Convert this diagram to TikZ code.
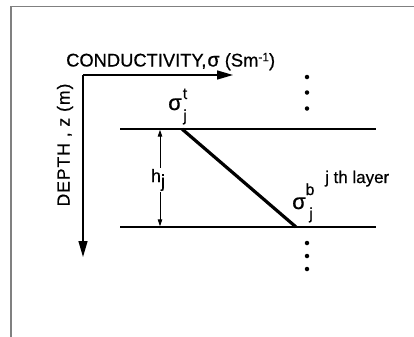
\documentclass[tikz,border=0pt]{standalone}
\usepackage{fontspec}
\setmainfont{Liberation Sans}
\usetikzlibrary{arrows.meta}
\begin{document}
\begin{tikzpicture}[x=1bp,y=-1bp,
  frame/.style={draw=black!50,line width=1.2bp},
  axis/.style={line width=1.4bp,-{Triangle[length=16bp,width=9bp]}},
  layerline/.style={line width=1.4bp},
  gradline/.style={line width=3.2bp},
  harrow/.style={line width=1bp,{Triangle[length=7bp,width=4.5bp]}-{Triangle[length=7bp,width=4.5bp]}},
  lab/.style={inner sep=0pt,font=\fontsize{18.4}{20}\selectfont\addfontfeature{FakeBold=0.6}},
  sig/.style={inner sep=0pt,font=\fontsize{22}{24}\selectfont\addfontfeature{FakeBold=0.6}},
  small/.style={inner sep=0pt,font=\fontsize{16}{18}\selectfont\addfontfeature{FakeBold=0.6}},
  dot/.style={circle,fill=black,inner sep=0pt,minimum size=4.5bp}]
\useasboundingbox (0,0) rectangle (414,337);
\fill[white] (0,0) rectangle (414,337);
% frame
\coordinate (fbl) at (11,337);
\coordinate (ftl) at (11,6.5);
\coordinate (ftr) at (414,6.5);
\draw[frame] (fbl) -- (ftl) -- (ftr);
% axes
\coordinate (o) at (83,75);
\coordinate (xe) at (233,75);
\coordinate (ze) at (83,257);
\draw[axis] (o) -- (xe);
\draw[axis] (o) -- (ze);
\node[lab,anchor=base west] (xlab) at (66,66.5) {CONDUCTIVITY,\kern1bp{\fontsize{20}{22}\selectfont σ} (Sm\raisebox{0.55ex}{\fontsize{12}{14}\selectfont -1})};
\node[lab,rotate=90,anchor=center,font=\fontsize{17.5}{20}\selectfont\addfontfeature{FakeBold=0.6}] (zlab) at (65,145) {\addfontfeature{LetterSpace=6}DEPTH , z (m)};
% layer lines
\coordinate (t1) at (120,129);
\coordinate (t2) at (376,129);
\coordinate (b1) at (120,227);
\coordinate (b2) at (376,227);
\draw[layerline] (t1) -- (t2);
\draw[layerline] (b1) -- (b2);
% gradient line
\coordinate (gt) at (182,129);
\coordinate (gb) at (296,227);
\draw[gradline] (gt) -- (gb);
% thickness arrow
\coordinate (ht) at (160,129.7);
\coordinate (hb) at (160,226.3);
\draw[harrow] (ht) -- (hb);
\node[fill=white,inner sep=1bp,font=\fontsize{18}{20}\selectfont\addfontfeature{FakeBold=0.6}] (hj) at (158,180) {h\raisebox{-0.55ex}{j}};
% sigma labels
\node[sig,anchor=base] (st) at (175,110) {σ};
\node[small,anchor=base] (stt) at (185,99) {t};
\node[small,anchor=base] (stj) at (185,121) {j};
\node[sig,anchor=base] (sb) at (299,209) {σ};
\node[small,anchor=base] (sbb) at (310,195) {b};
\node[small,anchor=base] (sbj) at (311,219) {j};
\node[small,anchor=base west,font=\fontsize{17}{19}\selectfont\addfontfeature{FakeBold=0.6}] (jth) at (325,183) {j th layer};
% dots
\foreach \y/\n in {77/a,92.5/b,108.5/c,243/d,256/e,269/f}
  \node[dot] (d\n) at (307,\y) {};
\end{tikzpicture}
\end{document}
